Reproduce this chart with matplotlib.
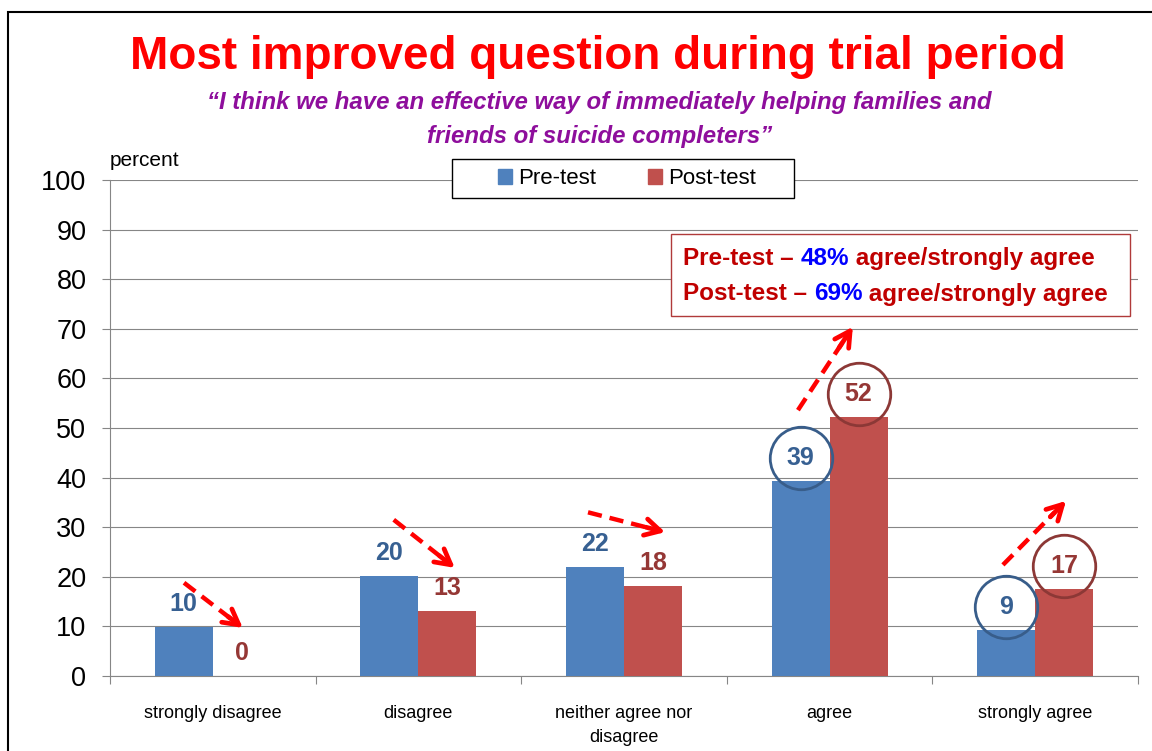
import matplotlib
matplotlib.use('Agg')
import matplotlib.pyplot as plt
from matplotlib.offsetbox import TextArea, HPacker, AnchoredOffsetbox
from matplotlib.patches import Rectangle, Patch
from matplotlib.transforms import ScaledTranslation
import numpy as np

# ---------------- data ----------------
categories = ['strongly disagree', 'disagree', 'neither agree nor\ndisagree',
              'agree', 'strongly agree']
pre_test = [9.8, 20.2, 22.0, 39.4, 9.2]
post_test = [0.0, 13.2, 18.1, 52.3, 17.5]
pre_labels = ['10', '20', '22', '39', '9']
post_labels = ['0', '13', '18', '52', '17']
circled = [3, 4]
series_names = ['Pre-test', 'Post-test']
yticks = list(range(0, 101, 10))

title = 'Most improved question during trial period'
subtitle1 = '\u201cI think we have an effective way of immediately helping families and'
subtitle2 = 'friends of suicide completers\u201d'

# ---------------- style ----------------
NARROW = ['Liberation Sans Narrow', 'Liberation Sans', 'DejaVu Sans']
WIDE = ['Liberation Sans', 'DejaVu Sans']
BLUE = '#4F81BD'
RED = '#C0504D'
BLUE_TXT = '#376092'
RED_TXT = '#953735'
GRID = '#868686'

W, H = 1152, 751
fig = plt.figure(figsize=(W / 100, H / 100), dpi=100)
ax = fig.add_axes([110 / W, 1 - 676 / H, (1138 - 110) / W, (676 - 180) / H])

x = np.arange(len(categories))
bw = 0.282
ax.bar(x - bw / 2, pre_test, bw, color=BLUE, zorder=3)
ax.bar(x + bw / 2, post_test, bw, color=RED, zorder=3)

ax.set_xlim(-0.5, len(categories) - 0.5)
ax.set_ylim(0, 100)
ax.set_yticks(yticks)
ax.yaxis.grid(True, color=GRID, lw=0.8)
ax.set_axisbelow(True)
for s in ['top', 'right']:
    ax.spines[s].set_visible(False)
for s in ['left', 'bottom']:
    ax.spines[s].set_color(GRID)
    ax.spines[s].set_linewidth(0.8)

ax.tick_params(axis='y', length=6, color=GRID, width=0.8, pad=11, labelsize=19.5)
for lab in ax.get_yticklabels():
    lab.set_family(NARROW)

ax.set_xticks(x)
ax.set_xticklabels(categories, fontsize=13, family=NARROW, linespacing=1.5)
ax.tick_params(axis='x', which='major', length=0, pad=21)
ax.set_xticks(np.arange(-0.5, len(categories), 1), minor=True)
ax.tick_params(axis='x', which='minor', length=6, color=GRID, width=0.8)

# value labels (with circles around the highlighted ones)
lift = 16.5  # points above bar top
up = ScaledTranslation(0, lift / 72, fig.dpi_scale_trans)
for i in range(len(categories)):
    for xpos, val, lab, col, ecol in [
        (x[i] - bw / 2, pre_test[i], pre_labels[i], BLUE_TXT, '#385D8A'),
        (x[i] + bw / 2, post_test[i], post_labels[i], RED_TXT, '#8C3836')]:
        ax.annotate(lab, xy=(xpos, val), xytext=(0, lift), textcoords='offset points',
                    ha='center', va='center', fontsize=18, fontweight='bold',
                    color=col, family=NARROW, zorder=6)
        if i in circled:
            ax.plot([xpos], [val], marker='o', markersize=45, mfc='none', mec=ecol,
                    mew=2.0, transform=ax.transData + up, zorder=6, clip_on=False)

# dashed arrows (annotation decorations)
arrows = [(-0.14, 18.8, 0.146, 9.7),
          (0.88, 31.5, 1.177, 21.8),
          (1.825, 33.0, 2.20, 29.0),
          (2.846, 53.6, 3.113, 70.4),
          (3.843, 22.4, 4.15, 35.3)]
for x0, y0, x1, y1 in arrows:
    xm, ym = x0 + 0.82 * (x1 - x0), y0 + 0.82 * (y1 - y0)
    ax.plot([x0, xm], [y0, ym], color='#FF0000', lw=3.2,
            ls=(0, (3.2, 1.8)), zorder=7, clip_on=False, solid_capstyle='butt')
    xh, yh = x0 + 0.75 * (x1 - x0), y0 + 0.75 * (y1 - y0)
    ax.annotate('', xy=(x1, y1), xytext=(xh, yh),
                arrowprops=dict(arrowstyle='->,head_length=1.1,head_width=0.6',
                                lw=3.4, color='#FF0000', shrinkA=0, shrinkB=0),
                zorder=7)

# legend (frame drawn separately to match the reference box)
handles = [Patch(color=BLUE), Patch(color=RED)]
leg = fig.legend(handles, series_names, loc='center',
                 bbox_to_anchor=(627 / W, 1 - 179 / H), ncol=2, frameon=False,
                 prop=dict(family=NARROW, size=16), handlelength=0.63,
                 handleheight=0.63, handletextpad=0.3, columnspacing=2.3,
                 borderpad=0.0, borderaxespad=0)
fig.add_artist(Rectangle((452 / W, 1 - 198 / H), (794 - 452) / W, (198 - 159) / H,
                         transform=fig.transFigure, facecolor='white',
                         edgecolor='black', lw=1.0, zorder=4))
leg.set_zorder(5)

# titles
fig.text(598 / W, 1 - 57 / H, title, ha='center', va='center', fontsize=33,
         fontweight='bold', color='#FF0000', family=WIDE)
fig.text(599 / W, 1 - 103 / H, subtitle1, ha='center', va='center', fontsize=17.3,
         fontweight='bold', fontstyle='italic', color='#8E0E9C', family=WIDE)
fig.text(600 / W, 1 - 137 / H, subtitle2, ha='center', va='center', fontsize=17.3,
         fontweight='bold', fontstyle='italic', color='#8E0E9C', family=WIDE)
fig.text(110 / W, 1 - 160 / H, 'percent', ha='left', va='center', fontsize=15,
         family=NARROW)

# summary box
box = Rectangle((671 / W, 1 - 316 / H), (1130 - 671) / W, (316 - 234) / H,
                transform=fig.transFigure, facecolor='white', edgecolor='#B03A3A',
                lw=1.0, zorder=5)
fig.add_artist(box)
DR = '#C00000'
lines = [[('Pre-test \u2013 ', DR), ('48%', '#0000FF'), (' agree/strongly agree', DR)],
         [('Post-test \u2013 ', DR), ('69%', '#0000FF'), (' agree/strongly agree', DR)]]
for ypix, parts in zip([258, 294], lines):
    kids = [TextArea(t, textprops=dict(color=c, fontsize=17.5, fontweight='bold',
                                       family=NARROW)) for t, c in parts]
    pack = HPacker(children=kids, align='baseline', pad=0, sep=0)
    ab = AnchoredOffsetbox(loc='center left', child=pack, pad=0, borderpad=0,
                           frameon=False, bbox_to_anchor=(683 / W, 1 - ypix / H),
                           bbox_transform=fig.transFigure)
    ab.set_zorder(6)
    fig.add_artist(ab)

# outer frame
frame = Rectangle((8 / W, -0.2), 1.5, 1 - 12 / H + 0.2, transform=fig.transFigure,
                  fill=False, edgecolor='black', lw=1.5)
fig.add_artist(frame)

fig.savefig('out.png', dpi=100, facecolor='white')
